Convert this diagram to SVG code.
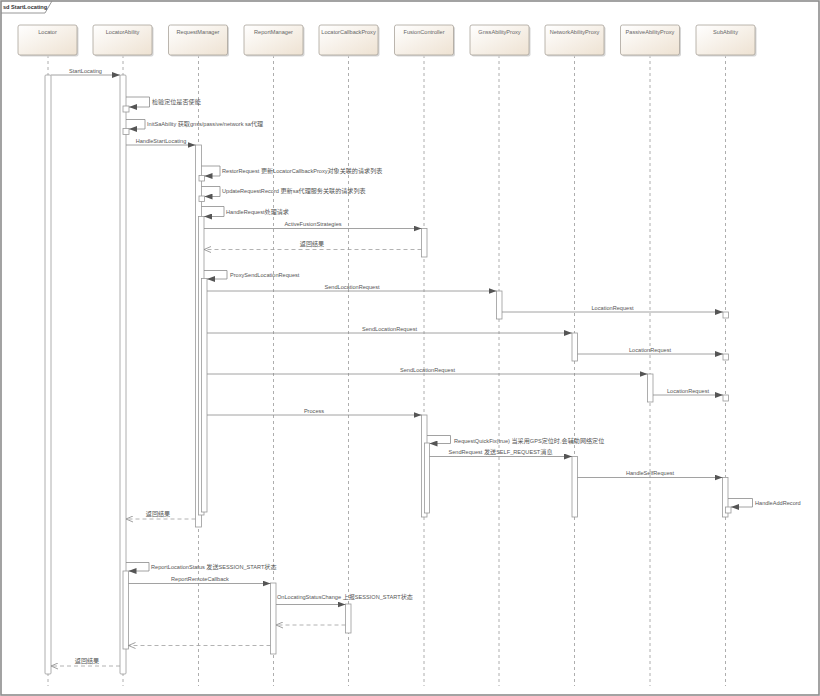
<svg xmlns="http://www.w3.org/2000/svg" width="820" height="696" viewBox="0 0 820 696">
<style>
text{font-family:"Liberation Sans","Noto Sans CJK SC",sans-serif;font-size:5.6px;fill:#555}
.c{font-size:6.1px}
.hd{text-anchor:middle;fill:#666}
.mid{text-anchor:middle}
.ttl{font-weight:bold;fill:#333}
.life{stroke:#999;stroke-width:0.8;stroke-dasharray:3,3;fill:none}
.box{fill:url(#g);stroke:#aaa39b;stroke-width:0.8}
.sh{fill:#d6d6d6}
.act{fill:#fff;stroke:#999;stroke-width:0.8}
.msg{stroke:#8a8a8a;stroke-width:0.8;fill:none;marker-end:url(#af)}
.ret{stroke:#a0a0a0;stroke-width:0.8;fill:none;stroke-dasharray:4,3;marker-end:url(#ao)}
</style>
<defs>
<linearGradient id="g" x1="0" y1="0" x2="1" y2="1">
<stop offset="0" stop-color="#ffffff"/>
<stop offset="1" stop-color="#eee2d2"/>
</linearGradient>
<marker id="af" markerUnits="userSpaceOnUse" markerWidth="8" markerHeight="6" refX="8" refY="3" orient="auto">
<path d="M0,0 L8,3 L0,6 z" fill="#555"/>
</marker>
<marker id="ao" markerUnits="userSpaceOnUse" markerWidth="8" markerHeight="7" refX="7" refY="3.5" orient="auto">
<path d="M0,0.5 L7,3.5 L0,6.5" fill="none" stroke="#888" stroke-width="0.8"/>
</marker>
</defs>
<rect x="0" y="0" width="820" height="696" fill="#fff"/>
<rect x="1" y="1" width="818" height="694" fill="none" stroke="#8c8c8c" stroke-width="1.6"/>
<path d="M1,13 H45 L52,1" fill="none" stroke="#8c8c8c" stroke-width="0.9"/>
<text class="ttl" x="3" y="9">sd StartLocating</text>

<g id="lifelines">
<line class="life" x1="48" y1="55" x2="48" y2="686"/>
<line class="life" x1="123" y1="55" x2="123" y2="686"/>
<line class="life" x1="198.5" y1="55" x2="198.5" y2="686"/>
<line class="life" x1="273.5" y1="55" x2="273.5" y2="686"/>
<line class="life" x1="348.5" y1="55" x2="348.5" y2="686"/>
<line class="life" x1="424" y1="55" x2="424" y2="686"/>
<line class="life" x1="499" y1="55" x2="499" y2="686"/>
<line class="life" x1="574.5" y1="55" x2="574.5" y2="686"/>
<line class="life" x1="650" y1="55" x2="650" y2="686"/>
<line class="life" x1="725.5" y1="55" x2="725.5" y2="686"/>
</g>

<g id="Locator"><rect class="sh" x="19.5" y="26.5" width="59" height="30" rx="2"/><rect class="box" x="18" y="25" width="59" height="30" rx="2"/><text class="hd" x="47.5" y="34">Locator</text></g>
<g id="LocatorAbility"><rect class="sh" x="94.5" y="26.5" width="59" height="30" rx="2"/><rect class="box" x="93" y="25" width="59" height="30" rx="2"/><text class="hd" x="122.5" y="34">LocatorAbility</text></g>
<g id="RequestManager"><rect class="sh" x="170" y="26.5" width="59" height="30" rx="2"/><rect class="box" x="168.5" y="25" width="59" height="30" rx="2"/><text class="hd" x="198" y="34">RequestManager</text></g>
<g id="ReportManager"><rect class="sh" x="245.5" y="26.5" width="59" height="30" rx="2"/><rect class="box" x="244" y="25" width="59" height="30" rx="2"/><text class="hd" x="273.5" y="34">ReportManager</text></g>
<g id="LocatorCallbackProxy"><rect class="sh" x="320.5" y="26.5" width="59" height="30" rx="2"/><rect class="box" x="319" y="25" width="59" height="30" rx="2"/><text class="hd" x="348.5" y="34">LocatorCallbackProxy</text></g>
<g id="FusionController"><rect class="sh" x="396" y="26.5" width="59" height="30" rx="2"/><rect class="box" x="394.5" y="25" width="59" height="30" rx="2"/><text class="hd" x="424" y="34">FusionController</text></g>
<g id="GnssAbilityProxy"><rect class="sh" x="471.5" y="26.5" width="59" height="30" rx="2"/><rect class="box" x="470" y="25" width="59" height="30" rx="2"/><text class="hd" x="499.5" y="34">GnssAbilityProxy</text></g>
<g id="NetworkAbilityProxy"><rect class="sh" x="546.5" y="26.5" width="59" height="30" rx="2"/><rect class="box" x="545" y="25" width="59" height="30" rx="2"/><text class="hd" x="574.5" y="34">NetworkAbilityProxy</text></g>
<g id="PassiveAbilityProxy"><rect class="sh" x="622" y="26.5" width="59" height="30" rx="2"/><rect class="box" x="620.5" y="25" width="59" height="30" rx="2"/><text class="hd" x="650" y="34">PassiveAbilityProxy</text></g>
<g id="SubAbility"><rect class="sh" x="697.5" y="26.5" width="59" height="30" rx="2"/><rect class="box" x="696" y="25" width="59" height="30" rx="2"/><text class="hd" x="725.5" y="34">SubAbility</text></g>

<g id="activations">
<rect class="act" x="45" y="75" width="6" height="599" rx="1"/>
<rect class="act" x="120" y="75" width="6" height="599" rx="1"/>
<rect class="act" x="123" y="106" width="6" height="6"/>
<rect class="act" x="123" y="128.5" width="6" height="6"/>
<rect class="act" x="123" y="571" width="5.5" height="78"/>
<rect class="act" x="195.5" y="145" width="6" height="382"/>
<rect class="act" x="199" y="175.5" width="5.5" height="5.5"/>
<rect class="act" x="199" y="196" width="5.5" height="5.5"/>
<rect class="act" x="198.5" y="216.5" width="5.5" height="298.5"/>
<rect class="act" x="201.5" y="278.5" width="5.5" height="233.5"/>
<rect class="act" x="421.5" y="228.5" width="5.5" height="28.5"/>
<rect class="act" x="421.5" y="415" width="5.5" height="102"/>
<rect class="act" x="424.5" y="443" width="5" height="70"/>
<rect class="act" x="496.5" y="291" width="5.5" height="28"/>
<rect class="act" x="572" y="333" width="5.5" height="28"/>
<rect class="act" x="572" y="456.5" width="5.5" height="60.5"/>
<rect class="act" x="647.5" y="374" width="5.5" height="28"/>
<rect class="act" x="723" y="312" width="5.5" height="6"/>
<rect class="act" x="723" y="354" width="5.5" height="6"/>
<rect class="act" x="723" y="395" width="5.5" height="6"/>
<rect class="act" x="722.5" y="477.5" width="5.5" height="39.5"/>
<rect class="act" x="725.5" y="507" width="5.5" height="6"/>
<rect class="act" x="270.5" y="583" width="5.5" height="71"/>
<rect class="act" x="345.5" y="604" width="5.5" height="29"/>
</g>

<g id="connectors">
<line class="msg" x1="51" y1="75" x2="120" y2="75"/>
<path class="msg" d="M126,97 H149.5 V107 H129"/>
<path class="msg" d="M126,119.5 H145 V129 H129"/>
<line class="msg" x1="126" y1="145" x2="195.5" y2="145"/>
<path class="msg" d="M201.5,166 H220 V176 H204.5"/>
<path class="msg" d="M201.5,186.5 H220 V196.5 H204.5"/>
<path class="msg" d="M201.5,206.5 H224 V216.5 H204"/>
<line class="msg" x1="204" y1="228.5" x2="421.5" y2="228.5"/>
<line class="ret" x1="421.5" y1="249.5" x2="204" y2="249.5"/>
<path class="msg" d="M204,270.5 H227 V279 H207"/>
<line class="msg" x1="207" y1="291" x2="496.5" y2="291"/>
<line class="msg" x1="502" y1="312" x2="723" y2="312"/>
<line class="msg" x1="207" y1="333" x2="572" y2="333"/>
<line class="msg" x1="577.5" y1="354" x2="723" y2="354"/>
<line class="msg" x1="207" y1="374" x2="647.5" y2="374"/>
<line class="msg" x1="653" y1="395" x2="723" y2="395"/>
<line class="msg" x1="207" y1="415" x2="421.5" y2="415"/>
<path class="msg" d="M427,435.5 H450.5 V443.5 H429.5"/>
<line class="msg" x1="429.5" y1="456.5" x2="572" y2="456.5"/>
<line class="msg" x1="577.5" y1="477.5" x2="722.5" y2="477.5"/>
<path class="msg" d="M728,498.5 H752.5 V507 H731"/>
<line class="ret" x1="195.5" y1="519" x2="126" y2="519"/>
<path class="msg" d="M126,562.5 H149 V571 H128.5"/>
<line class="msg" x1="128.5" y1="583.5" x2="270.5" y2="583.5"/>
<line class="msg" x1="276" y1="604.5" x2="345.5" y2="604.5"/>
<line class="ret" x1="345.5" y1="625" x2="276" y2="625"/>
<line class="ret" x1="270.5" y1="645.5" x2="128.5" y2="645.5"/>
<line class="ret" x1="120" y1="666" x2="51" y2="666"/>
</g>

<g id="labels">
<text class="mid" x="85.5" y="72.5">StartLocating</text>
<text class="c" x="152" y="104">检验定位是否使能</text>
<text x="147" y="126">InitSaAbility <tspan class="c">获取</tspan>gnss/passive/network sa<tspan class="c">代理</tspan></text>
<text class="mid" x="161" y="142.5">HandleStartLocating</text>
<text x="222" y="172.5">RestorRequest <tspan class="c">更新</tspan>LocatorCallbackProxy<tspan class="c">对象关联的请求列表</tspan></text>
<text x="222" y="192.5">UpdateRequestRecord <tspan class="c">更新</tspan>sa<tspan class="c">代理服务关联的请求列表</tspan></text>
<text x="226" y="213.5">HandleRequest<tspan class="c">处理请求</tspan></text>
<text class="mid" x="313" y="226">ActiveFusionStrategies</text>
<text class="mid c" x="312" y="246">返回结果</text>
<text x="230" y="277">ProxySendLocationRequest</text>
<text class="mid" x="352" y="288.5">SendLocationRequest</text>
<text class="mid" x="612.5" y="309.5">LocationRequest</text>
<text class="mid" x="389.5" y="330.5">SendLocationRequest</text>
<text class="mid" x="650" y="351.5">LocationRequest</text>
<text class="mid" x="427.5" y="371.5">SendLocationRequest</text>
<text class="mid" x="688" y="392.5">LocationRequest</text>
<text class="mid" x="314" y="412.5">Process</text>
<text x="454" y="443">RequestQuickFix(true) <tspan class="c">当采用</tspan>GPS<tspan class="c">定位时,会辅助网络定位</tspan></text>
<text class="mid" x="500.5" y="454">SendRequest <tspan class="c">发送</tspan>SELF_REQUEST<tspan class="c">消息</tspan></text>
<text class="mid" x="650" y="475">HandleSelfRequest</text>
<text x="755" y="505">HandleAddRecord</text>
<text class="mid c" x="158" y="516">返回结果</text>
<text x="151" y="568.5">ReportLocationStatus <tspan class="c">发送</tspan>SESSION_START<tspan class="c">状态</tspan></text>
<text class="mid" x="200" y="581">ReportRemoteCallback</text>
<text x="277" y="599">OnLocatingStatusChange <tspan class="c">上报</tspan>SESSION_START<tspan class="c">状态</tspan></text>
<text class="mid c" x="87" y="663">返回结果</text>
</g>
</svg>
